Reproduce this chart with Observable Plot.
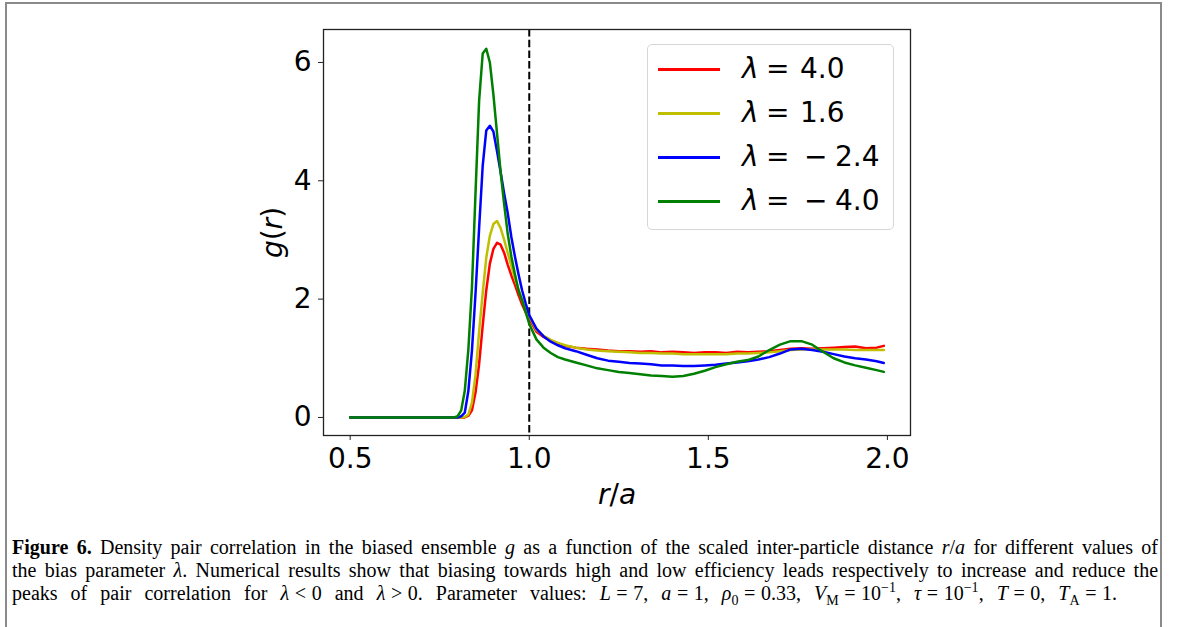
<!DOCTYPE html>
<html><head><meta charset="utf-8">
<script src="https://cdn.jsdelivr.net/npm/d3@7"></script>
<script src="https://cdn.jsdelivr.net/npm/@observablehq/plot@0.6"></script>
<style>
body{margin:0;background:#fff;}
#wrap{position:relative;width:1179px;height:627px;overflow:hidden;background:#fff;}
#border{position:absolute;left:5px;top:2px;width:1153px;height:700px;border:2px solid #8a8a8a;}
#chart{position:absolute;left:0;top:0;}
#legend{position:absolute;left:647px;top:44px;width:245px;height:184px;border:1px solid #d6d6d6;border-radius:5px;background:rgba(255,255,255,0.8);font-family:"DejaVu Sans";font-size:28px;color:#000;}
.row{position:absolute;left:0;width:245px;height:40px;}
.sw{position:absolute;left:10px;width:62px;height:2.5px;}
.lt{position:absolute;line-height:32px;white-space:nowrap;}
#caption{position:absolute;left:12px;top:536px;font-family:"Liberation Serif","Times New Roman",serif;font-size:20px;line-height:23px;color:#000;}
.cl{white-space:nowrap;text-align:justify;text-align-last:justify;width:1146px;}
.cl3{white-space:nowrap;text-align:justify;text-align-last:justify;width:1105px;}
.rel{margin:0 0.28em;}
i{font-style:italic;}
sub,sup{font-size:70%;line-height:0;}
</style>
</head><body>
<div id="wrap">
<div id="border"></div>
<div id="chart"></div>
<div id="legend"></div>
<div id="caption">
<div class="cl"><b>Figure 6.</b> Density pair correlation in the biased ensemble <i>g</i> as a function of the scaled inter-particle distance <i>r</i>/<i>a</i> for different values of</div>
<div class="cl">the bias parameter <i>λ</i>. Numerical results show that biasing towards high and low efficiency leads respectively to increase and reduce the</div>
<div class="cl3">peaks of pair correlation for <i>λ</i><span class="rel">&lt;</span>0 and <i>λ</i><span class="rel">&gt;</span>0. Parameter values: <i>L</i><span class="rel">=</span>7, <i>a</i><span class="rel">=</span>1, <i>ρ</i><sub>0</sub><span class="rel">=</span>0.33, <i>V</i><sub>M</sub><span class="rel">=</span>10<sup>−1</sup>, <i>τ</i><span class="rel">=</span>10<sup>−1</sup>, <i>T</i><span class="rel">=</span>0, <i>T</i><sub>A</sub><span class="rel">=</span>1.</div>
</div>
</div>
<script>
// ---- data ----
const seriesNames = ["λ = 4.0", "λ = 1.6", "λ = − 2.4", "λ = − 4.0"];
const seriesColors = ["#ff0000", "#bfbf00", "#0000ff", "#008000"];
const xTicks = [0.5, 1.0, 1.5, 2.0];
const yTicks = [0, 2, 4, 6];

const rRed = [0.5,0.6,0.7,0.8,0.82,0.83,0.84,0.85,0.86,0.87,0.88,0.89,0.90,0.91,0.92,0.93,0.94,0.95,0.96,0.97,0.98,0.99,1.00,1.02,1.04,1.06,1.08,1.10,1.13,1.16,1.19,1.22,1.25,1.28,1.31,1.34,1.37,1.40,1.43,1.46,1.49,1.52,1.55,1.58,1.61,1.64,1.67,1.70,1.73,1.76,1.79,1.82,1.85,1.88,1.91,1.94,1.97,1.99];
const gRed = [0,0,0,0,0.0,0.03,0.12,0.42,0.9,1.55,2.15,2.6,2.85,2.95,2.92,2.78,2.58,2.4,2.24,2.07,1.91,1.78,1.67,1.45,1.36,1.30,1.25,1.21,1.18,1.16,1.15,1.13,1.12,1.12,1.11,1.12,1.10,1.11,1.10,1.09,1.10,1.10,1.09,1.11,1.10,1.11,1.12,1.14,1.16,1.17,1.16,1.17,1.18,1.19,1.20,1.17,1.18,1.21];

const rYellow = [0.5,0.6,0.7,0.81,0.82,0.83,0.84,0.85,0.86,0.87,0.88,0.89,0.90,0.91,0.92,0.93,0.94,0.95,0.96,0.97,0.98,0.99,1.00,1.02,1.04,1.06,1.08,1.10,1.13,1.16,1.19,1.22,1.25,1.28,1.31,1.34,1.37,1.40,1.43,1.46,1.49,1.52,1.55,1.58,1.61,1.64,1.67,1.70,1.73,1.76,1.79,1.82,1.85,1.88,1.91,1.94,1.97,1.99];
const gYellow = [0,0,0,0,0.01,0.05,0.25,0.72,1.45,2.1,2.7,3.07,3.27,3.32,3.2,3.0,2.78,2.56,2.35,2.16,1.99,1.84,1.71,1.48,1.38,1.31,1.26,1.22,1.18,1.15,1.13,1.12,1.11,1.10,1.09,1.09,1.08,1.08,1.07,1.07,1.07,1.07,1.07,1.08,1.08,1.09,1.10,1.12,1.14,1.15,1.15,1.15,1.15,1.15,1.14,1.14,1.14,1.14];

const rBlue = [0.5,0.6,0.7,0.80,0.81,0.82,0.83,0.84,0.85,0.86,0.87,0.88,0.89,0.90,0.91,0.92,0.93,0.94,0.95,0.96,0.97,0.98,0.99,1.00,1.02,1.04,1.06,1.08,1.10,1.13,1.16,1.19,1.22,1.25,1.28,1.31,1.34,1.37,1.40,1.43,1.46,1.49,1.52,1.55,1.58,1.61,1.64,1.67,1.70,1.73,1.76,1.79,1.82,1.85,1.88,1.91,1.94,1.97,1.99];
const gBlue = [0,0,0,0,0.02,0.08,0.45,1.13,2.1,3.2,4.25,4.85,4.93,4.83,4.5,4.15,3.78,3.45,3.05,2.72,2.42,2.15,1.93,1.73,1.5,1.37,1.28,1.22,1.17,1.12,1.06,1.00,0.96,0.94,0.92,0.91,0.90,0.88,0.88,0.87,0.87,0.88,0.89,0.91,0.93,0.95,0.98,1.02,1.08,1.15,1.16,1.14,1.11,1.07,1.03,1.00,0.98,0.95,0.92];

const rGreen = [0.5,0.6,0.7,0.79,0.80,0.81,0.82,0.83,0.84,0.85,0.86,0.87,0.88,0.89,0.90,0.91,0.92,0.93,0.94,0.95,0.96,0.97,0.98,0.99,1.00,1.02,1.04,1.06,1.08,1.10,1.13,1.16,1.19,1.22,1.25,1.28,1.31,1.34,1.37,1.40,1.43,1.46,1.49,1.52,1.55,1.58,1.61,1.64,1.67,1.70,1.73,1.76,1.79,1.82,1.85,1.88,1.91,1.94,1.97,1.99];
const gGreen = [0,0,0,0,0.02,0.12,0.45,1.15,2.2,3.8,5.35,6.15,6.23,6.0,5.45,4.8,4.15,3.6,3.1,2.72,2.42,2.15,1.98,1.78,1.58,1.32,1.18,1.09,1.02,0.98,0.93,0.88,0.83,0.80,0.77,0.75,0.73,0.71,0.70,0.69,0.70,0.74,0.79,0.85,0.90,0.94,0.97,1.03,1.14,1.23,1.29,1.29,1.23,1.11,1.00,0.93,0.88,0.84,0.80,0.77];

// ---- build table ----
const seriesR = [rRed, rYellow, rBlue, rGreen];
const seriesG = [gRed, gYellow, gBlue, gGreen];
const rows = seriesNames.flatMap((name, k) => seriesR[k].map((r, i) => ({name, r, g: seriesG[k][i]})));

const chart = Plot.plot({
  width: 1179,
  height: 510,
  marginLeft: 323,
  marginRight: 269,
  marginTop: 29,
  marginBottom: 75,
  style: {fontFamily: "DejaVu Sans", fontSize: "28px", color: "#000", background: "transparent", overflow: "visible"},
  x: {domain: [0.4255, 2.0645]},
  y: {domain: [-0.305, 6.557]},
  color: {domain: seriesNames, range: seriesColors},
  marks: [
    Plot.ruleX([1.0], {stroke: "#000", strokeWidth: 2, strokeDasharray: "7.5,3.2"}),
    Plot.line(rows, {x: "r", y: "g", z: "name", stroke: "name", strokeWidth: 2.5}),
    Plot.frame({stroke: "#222", strokeWidth: 1.3}),
    Plot.axisX({ticks: xTicks, tickFormat: d => d.toFixed(1), tickSize: 5, tickPadding: 8, label: "r/a", labelAnchor: "center", labelOffset: 68, labelArrow: "none", stroke: "#222"}),
    Plot.axisY({ticks: yTicks, tickFormat: d => String(d), tickSize: 5, tickPadding: 7, label: "g(r)", labelAnchor: "center", labelOffset: 61, labelArrow: "none", stroke: "#222"})
  ]
});
document.getElementById("chart").appendChild(chart);

// mathtext-like axis labels
const svg = d3.select(chart);
svg.select('g[aria-label="x-axis label"] text').each(function(){
  const t = d3.select(this); t.text("");
  t.append("tspan").attr("font-style", "italic").text("r");
  t.append("tspan").text("/");
  t.append("tspan").attr("font-style", "italic").text("a");
});
svg.select('g[aria-label="y-axis label"] text').each(function(){
  const t = d3.select(this); t.text("");
  t.append("tspan").attr("font-style", "italic").text("g");
  t.append("tspan").text("(");
  t.append("tspan").attr("font-style", "italic").text("r");
  t.append("tspan").text(")");
});

// legend (inside axes, upper right)
const legend = d3.select("#legend");
const valueParts = [["", "4.0"], ["", "1.6"], ["−", "2.4"], ["−", "4.0"]];
seriesNames.forEach((name, k) => {
  const cy = 24 + 44 * k;
  const row = legend.append("div").attr("class", "row").style("top", (cy - 20) + "px");
  row.append("div").attr("class", "sw").style("top", "19px").style("background", seriesColors[k]);
  row.append("span").attr("class", "lt").style("left", "94px").style("top", "4px").style("font-style", "italic").text("λ");
  row.append("span").attr("class", "lt").style("left", "118px").style("top", "4px").text("=");
  if (valueParts[k][0]) {
    row.append("span").attr("class", "lt").style("left", "156px").style("top", "4px").text(valueParts[k][0]);
    row.append("span").attr("class", "lt").style("left", "187px").style("top", "4px").text(valueParts[k][1]);
  } else {
    row.append("span").attr("class", "lt").style("left", "152px").style("top", "4px").text(valueParts[k][1]);
  }
});
</script>
</body></html>
